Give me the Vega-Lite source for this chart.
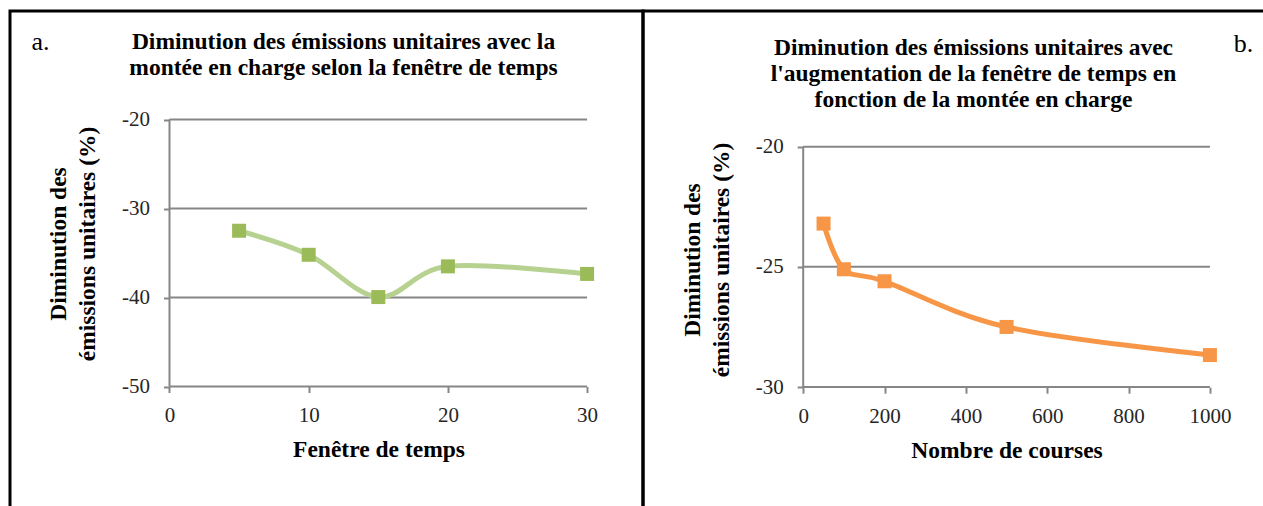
{
  "$schema": "https://vega.github.io/schema/vega-lite/v6.json",
  "background": "white",
  "padding": {"left": 8, "top": 9, "right": 0, "bottom": 0},
  "spacing": 0,
  "bounds": "flush",
  "config": {
    "view": {"stroke": "black", "strokeWidth": 3},
    "font": "Liberation Serif",
    "axis": {
      "labelFont": "Liberation Serif", "labelFontSize": 21, "labelColor": "#262626",
      "titleFont": "Liberation Serif", "titleFontSize": 23.5, "titleFontWeight": "bold", "titleColor": "black",
      "tickColor": "#868686", "tickWidth": 2, "tickSize": 6, "domain": false, "grid": false
    },
    "title": {
      "font": "Liberation Serif", "fontSize": 23.5, "fontWeight": "bold", "color": "black",
      "lineHeight": 26, "anchor": "middle", "frame": "group"
    }
  },
  "hconcat": [
    {
      "width": 633,
      "height": 502,
      "title": {"text": ["Diminution des émissions unitaires avec la", "montée en charge selon la fenêtre de temps"], "dx": 17, "offset": -92.5, "baseline": "bottom"},
      "layer": [
        {
          "data": {"values": [{"g": -20}, {"g": -30}, {"g": -40}, {"g": -50}]},
          "mark": {"type": "rule", "color": "#868686", "strokeWidth": 2},
          "encoding": {
            "y": {"field": "g", "type": "quantitative", "scale": {"domain": [-64.213, -7.809], "nice": false, "zero": false},
              "axis": {"orient": "left", "offset": -159.5, "values": [-20, -30, -40, -50], "labelPadding": 14, "labelExpr": "'' + datum.value",
                "title": ["Diminution des", "émissions unitaires (%)"], "titleX": -111, "titleY": 232.5, "titleAngle": -90,
                "titleBaseline": "middle", "titleAlign": "center", "titleLineHeight": 29, "titleAnchor": null}},
            "x": {"datum": 0, "scale": {"domain": [-11.458, 34.016], "nice": false, "zero": false},
              "axis": {"orient": "bottom", "offset": -126.5, "values": [0, 10, 20, 30], "labelPadding": 12, "labelExpr": "'' + datum.value",
                "title": "Fenêtre de temps", "titleX": 368.5, "titleY": 63, "titleBaseline": "middle", "titleAlign": "center", "titleAnchor": null}},
            "x2": {"datum": 30}
          }
        },
        {
          "data": {"values": [{"top": -20, "bottom": -50, "at": 0}]},
          "mark": {"type": "rule", "color": "#868686", "strokeWidth": 2},
          "encoding": {
            "x": {"field": "at", "type": "quantitative"},
            "y": {"field": "top", "type": "quantitative"},
            "y2": {"field": "bottom"}
          }
        },
        {
          "data": {"values": [
            {"fenetre": 5, "diminution": -32.5},
            {"fenetre": 10, "diminution": -35.2},
            {"fenetre": 15, "diminution": -39.95},
            {"fenetre": 20, "diminution": -36.5},
            {"fenetre": 30, "diminution": -37.35}
          ]},
          "layer": [
            {
              "mark": {"type": "line", "interpolate": "cardinal", "color": "#B7D190", "strokeWidth": 5},
              "encoding": {
                "x": {"field": "fenetre", "type": "quantitative"},
                "y": {"field": "diminution", "type": "quantitative"}
              }
            },
            {
              "mark": {"type": "square", "size": 196, "color": "#9BBB59", "opacity": 1, "filled": true},
              "encoding": {
                "x": {"field": "fenetre", "type": "quantitative"},
                "y": {"field": "diminution", "type": "quantitative"}
              }
            }
          ]
        },
        {
          "data": {"values": [{"lab": "a."}]},
          "mark": {"type": "text", "fontSize": 26, "font": "Liberation Serif", "color": "black", "align": "center", "baseline": "alphabetic"},
          "encoding": {
            "text": {"field": "lab"},
            "x": {"datum": -9.267},
            "y": {"datum": -12.247}
          }
        }
      ]
    },
    {
      "width": 623,
      "height": 502,
      "title": {"text": ["Diminution des émissions unitaires avec", "l'augmentation de la fenêtre de temps en", "fonction de la montée en charge"], "dx": 19, "offset": -124, "baseline": "bottom"},
      "layer": [
        {
          "data": {"values": [{"g": -20}, {"g": -25}, {"g": -30}]},
          "mark": {"type": "rule", "color": "#868686", "strokeWidth": 2},
          "encoding": {
            "y": {"field": "g", "type": "quantitative", "scale": {"domain": [-35.242, -14.354], "nice": false, "zero": false},
              "axis": {"orient": "left", "offset": -160.2, "values": [-20, -25, -30], "labelPadding": 14, "labelExpr": "'' + datum.value",
                "title": ["Diminution des", "émissions unitaires (%)"], "titleX": -110.7, "titleY": 248.5, "titleAngle": -90,
                "titleBaseline": "middle", "titleAlign": "center", "titleLineHeight": 29, "titleAnchor": null}},
            "x": {"datum": 0, "scale": {"domain": [-393.9, 1137.9], "nice": false, "zero": false},
              "axis": {"orient": "bottom", "offset": -125.8, "values": [0, 200, 400, 600, 800, 1000], "labelPadding": 12, "labelExpr": "'' + datum.value",
                "title": "Nombre de courses", "titleX": 363.5, "titleY": 63, "titleBaseline": "middle", "titleAlign": "center", "titleAnchor": null}},
            "x2": {"datum": 1000}
          }
        },
        {
          "data": {"values": [{"top": -20, "bottom": -30, "at": 0}]},
          "mark": {"type": "rule", "color": "#868686", "strokeWidth": 2},
          "encoding": {
            "x": {"field": "at", "type": "quantitative"},
            "y": {"field": "top", "type": "quantitative"},
            "y2": {"field": "bottom"}
          }
        },
        {
          "data": {"values": [
            {"courses": 50, "diminution": -23.2},
            {"courses": 100, "diminution": -25.1},
            {"courses": 200, "diminution": -25.6},
            {"courses": 500, "diminution": -27.5},
            {"courses": 1000, "diminution": -28.67}
          ]},
          "layer": [
            {
              "mark": {"type": "line", "interpolate": "cardinal", "color": "#F79646", "strokeWidth": 5},
              "encoding": {
                "x": {"field": "courses", "type": "quantitative"},
                "y": {"field": "diminution", "type": "quantitative"}
              }
            },
            {
              "mark": {"type": "square", "size": 196, "color": "#F79646", "opacity": 1, "filled": true},
              "encoding": {
                "x": {"field": "courses", "type": "quantitative"},
                "y": {"field": "diminution", "type": "quantitative"}
              }
            }
          ]
        },
        {
          "data": {"values": [{"lab": "b."}]},
          "mark": {"type": "text", "fontSize": 26, "font": "Liberation Serif", "color": "black", "align": "center", "baseline": "alphabetic"},
          "encoding": {
            "text": {"field": "lab"},
            "x": {"datum": 1082.6},
            "y": {"datum": -16.04}
          }
        }
      ]
    }
  ]
}
